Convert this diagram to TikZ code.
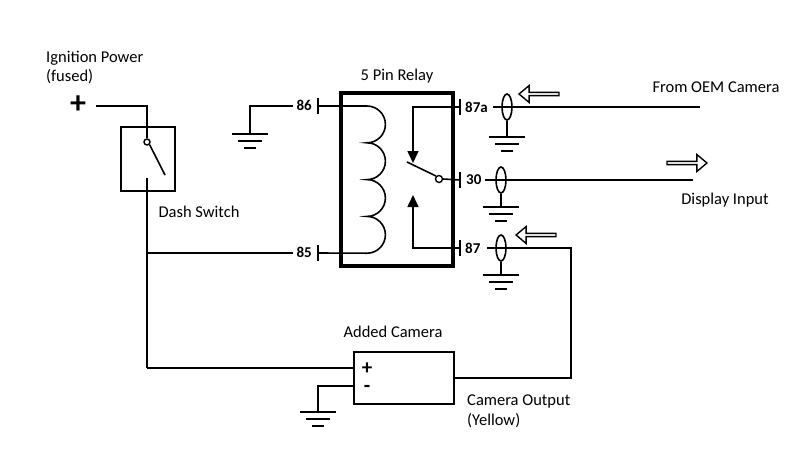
\documentclass[tikz,border=0pt]{standalone}
\usepackage{fontspec}
\setmainfont{Carlito}
\usetikzlibrary{shapes.arrows,shapes.geometric,arrows.meta,calc}
\tikzset{
    wire/.style={line width=1.6pt},
    pin/.style={line width=2.2pt},
    lbl/.style={font=\fontsize{16.5}{19}\selectfont, inner sep=0pt},
    pinlbl/.style={font=\bfseries\fontsize{15}{16}\selectfont, inner sep=0pt},
    sign/.style={font=\bfseries\fontsize{#1}{#1}\selectfont, inner sep=0pt},
    hollow/.style={single arrow, draw, line width=1.4pt, minimum height=40pt, minimum width=17pt, single arrow head extend=3pt, inner sep=0pt, single arrow tip angle=80},
    shield/.style={ellipse, draw, line width=1.6pt, minimum width=10pt, minimum height=26pt, inner sep=0pt}
}
% ground symbol hanging below a named coordinate
\def\Ground#1{
    \draw[wire] ($(#1)+(-18,0)$) -- ($(#1)+(18,0)$);
    \draw[wire] ($(#1)+(-12,7)$) -- ($(#1)+(12,7)$);
    \draw[wire] ($(#1)+(-6,14)$) -- ($(#1)+(6,14)$);
}
\begin{document}
\begin{tikzpicture}[x=1pt,y=-1pt]
    \useasboundingbox (0,0) rectangle (798,459);
    % labels
    \node[lbl,anchor=west] (ign) at (46,58) {Ignition Power};
    \node[lbl,anchor=west] (fused) at (46,77) {(fused)};
    \node[lbl] (relaylbl) at (397,76) {5 Pin Relay};
    \node[lbl] (dashlbl) at (199,212) {Dash Switch};
    \node[lbl] (oem) at (716,87) {From OEM Camera};
    \node[lbl] (disp) at (725,200) {Display Input};
    \node[lbl] (camlbl) at (393,332) {Added Camera};
    \node[lbl,anchor=west] (camout) at (467,401) {Camera Output};
    \node[lbl,anchor=west] (yellow) at (467,421) {(Yellow)};

    % ignition and dash switch
    \node[sign=32] (plus) at (78,105) {+};
    \coordinate (ignend) at (96,106);
    \node[draw,line width=1.6pt,minimum width=54pt,minimum height=64pt,inner sep=0pt] (sw) at (148,159) {};
    \node[circle,draw,line width=1.4pt,minimum size=6pt,inner sep=0pt] (swpiv) at (147,142) {};
    \coordinate (swtip) at (165,175);
    \coordinate (swlow) at (147,178);
    \coordinate (junc) at (147,253);
    \coordinate (corner) at (147,368);
    \draw[wire] (ignend) -| (swpiv.north);
    \draw[wire] (swpiv.south east) -- (swtip);
    \draw[wire] (swlow) -- (corner);

    % relay
    \node[draw,line width=3.5pt,minimum width=112pt,minimum height=173pt,inner sep=0pt] (relay) at (397,179.5) {};
    \coordinate (p86) at (318,106);
    \coordinate (p85) at (318,253);
    \coordinate (p87a) at (460,107);
    \coordinate (p30) at (460,180);
    \coordinate (p87) at (460,248);
    \foreach \p in {p86,p85,p87a,p30,p87}
        \draw[pin] ($(\p)+(0,-8)$) -- ($(\p)+(0,8)$);
    \node[pinlbl,anchor=east] (l86) at (312,105) {86};
    \node[pinlbl,anchor=east] (l85) at (312,252) {85};
    \node[pinlbl,anchor=west] (l87a) at (465,107) {87a};
    \node[pinlbl,anchor=west] (l30) at (466,180) {30};
    \node[pinlbl,anchor=west] (l87) at (465,248) {87};

    % coil
    \draw[wire] (p86) -- (367,106) arc (-90:90:18.4) arc (-90:90:18.4) arc (-90:90:18.4) arc (-90:90:18.4) -- (p85);
    \draw[wire] (junc) -- ([xshift=-3pt]l85.west |- p85);
    % ground on 86
    \coordinate (g86) at (250,134);
    \draw[wire] ([xshift=-3pt]l86.west |- p86) -| (g86);
    \Ground{g86}

    % contacts
    \draw[wire,-{Triangle[length=12pt,width=11pt]}] (p87a) -| (413,163);
    \draw[wire,-{Triangle[length=12pt,width=11pt]}] (p87) -| (413,195);
    \node[circle,draw,line width=1.4pt,minimum size=7pt,inner sep=0pt] (piv) at (439,179) {};
    \coordinate (blade) at (407,162);
    \draw[wire] (piv.north west) -- (blade);
    \draw[wire] (piv.east) -- (p30);

    % outside wiring
    \node[shield] (s87a) at (507,107) {};
    \node[shield] (s30) at (501,180) {};
    \node[shield] (s87) at (501,248) {};
    \coordinate (e87a) at (700,107);
    \coordinate (e30) at (693,180);
    \draw[wire] (493,107) -- (e87a);
    \draw[wire] (485,180) -- (e30);
    \coordinate (g87a) at (507,137);
    \coordinate (g30) at (501,207);
    \coordinate (g87) at (501,275);
    \draw[wire] (s87a.south) -- (g87a);
    \draw[wire] (s30.south) -- (g30);
    \draw[wire] (s87.south) -- (g87);
    \Ground{g87a}
    \Ground{g30}
    \Ground{g87}
    \node[hollow,shape border rotate=180] (a87a) at (540,94) {};
    \node[hollow,shape border rotate=180] (a87) at (537,235) {};
    \node[hollow] (a30) at (686,163) {};

    % added camera
    \node[draw,line width=1.6pt,minimum width=100pt,minimum height=52pt,inner sep=0pt] (cam) at (404,378) {};
    \node[sign=21,anchor=base,text height=11pt,text depth=0pt] (cplus) at (367,374) {+};
    \node[sign=21,anchor=base,text height=8pt,text depth=0pt] (cminus) at (367,392) {-};
    \draw[wire] (corner) -- (354,368);
    \coordinate (gcam) at (318,412);
    \draw[wire] (354,386) -| (gcam);
    \Ground{gcam}
    \draw[wire] (487,248) -- (571,248) |- (cam.east);
\end{tikzpicture}
\end{document}
